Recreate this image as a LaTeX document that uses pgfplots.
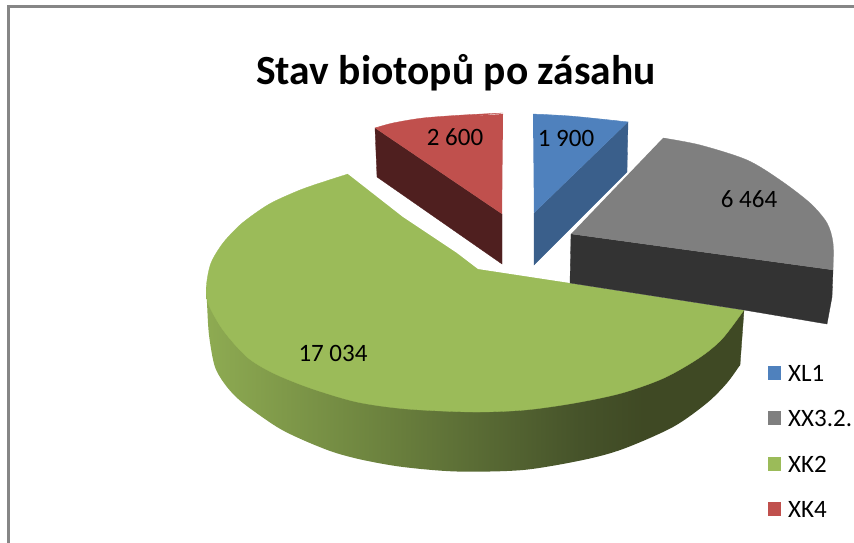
\documentclass[border=0pt]{standalone}
\usepackage{fontspec}
\setmainfont{Carlito}
\usepackage{pgfplots}
\pgfplotsset{compat=1.18}
\definecolor{cblue}{HTML}{4F81BD}
\definecolor{cblued}{HTML}{3A5F8B}
\definecolor{cred}{HTML}{C0504D}
\definecolor{credd}{HTML}{4F1F1F}
\definecolor{cgray}{HTML}{7F7F7F}
\definecolor{cgrayd}{HTML}{333333}
\definecolor{cgreen}{HTML}{9BBB59}
\definecolor{cframe}{HTML}{868686}
\definecolor{gs0}{HTML}{8EAB52}
\definecolor{gs1}{HTML}{6F8640}
\definecolor{gs2}{HTML}{46532A}
\definecolor{gs3}{HTML}{3F4924}
\pgfdeclarehorizontalshading{greenside}{100bp}{color(0bp)=(gs0);
 color(25bp)=(gs0); color(40bp)=(gs1); color(60bp)=(gs2); color(66bp)=(gs3); color(100bp)=(gs3)}
\begin{document}
\begin{tikzpicture}
\begin{axis}[
  scale only axis, width=854pt, height=543pt,
  xmin=0, xmax=854, ymin=0, ymax=543, y dir=reverse,
  hide axis, enlargelimits=false, clip=true]
% background (also fixes the picture's extent)
\addplot[fill=white, draw=none, no marks] coordinates {(0,0) (854,0) (854,543) (0,543)} -- cycle;
% frame
\addplot[cframe, line width=2.5pt, no marks] coordinates {(8.5,543) (8.5,6.5) (854,6.5)};
% green slice: rim
\addplot[shading=greenside, draw=none, no marks, smooth] coordinates {(206,287) (207,303) (209,335) (215,367) (227,387) (243,403) (277,427) (303,440) (333,452) (363,460) (403,467) (457,471.5) (523,470) (583,460) (623,449) (673,427) (707,403) (727,383) (740,365)};
\addplot[fill=gs3, draw=gs3, line width=0.3pt, no marks] coordinates {(740,365) (744,310) (690,340) (700,400)} -- cycle;
% green slice: top
\addplot[fill=cgreen, draw=cgreen, line width=0.3pt, no marks, smooth] coordinates {(348,174) (323,182) (300,190) (273,202) (257,212) (240,225) (223,243) (211,263) (206.5,285) (208,303) (223,330) (247,357) (273,373) (310,388) (357,402) (407,409) (473,412) (525,410) (575,403) (622,393) (664,378) (699,358) (722,339) (744,310)};
\addplot[fill=white, draw=none, no marks] coordinates {(348,174) (403,217) (457,253) (478,269) (570,283) (744,310) (747,306) (351,170)} -- cycle;
% red slice
\addplot[fill=credd, draw=credd, line width=0.3pt, no marks] coordinates {(375,128) (502,214) (502,264) (377,177)} -- cycle;
\addplot[fill=cred, draw=cred, line width=0.3pt, no marks, smooth] coordinates {(375,128) (393,123) (423,118) (463,115) (503,113)};
\addplot[fill=cred, draw=none, no marks] coordinates {(375,128) (423,119) (503,114) (502,214)} -- cycle;
% blue slice
\addplot[fill=cblued, draw=cblued, line width=0.3pt, no marks] coordinates {(628,122) (534,213) (534,265) (627,172)} -- cycle;
\addplot[fill=cblue, draw=cblue, line width=0.3pt, no marks, smooth] coordinates {(533,114) (570,116) (610,120) (628,122)};
\addplot[fill=cblue, draw=none, no marks] coordinates {(533,114) (570,116.5) (628,122) (534,213)} -- cycle;
% gray slice
\addplot[white, line width=1.6pt, no marks] coordinates {(663,138) (571,234)};
\addplot[fill=cgrayd, draw=cgrayd, line width=0.3pt, no marks] coordinates {(571,234) (833,270) (832,297) (827,324) (744,310) (570,283)} -- cycle;
\addplot[fill=cgray, draw=cgray, line width=0.3pt, no marks, smooth] coordinates {(663,138) (700,145) (747,160) (780,180) (810,203) (827,223) (833,243) (833,270)};
\addplot[fill=cgray, draw=none, no marks] coordinates {(663,138) (700,147) (747,162) (780,182) (810,205) (826,224) (832,244) (833,270) (571,234)} -- cycle;
% legend keys
\addplot[fill=cblue, draw=none, no marks] coordinates {(768,366) (781,366) (781,380) (768,380)} -- cycle;
\addplot[fill=cgray, draw=none, no marks] coordinates {(768,411) (781,411) (781,425) (768,425)} -- cycle;
\addplot[fill=cgreen, draw=none, no marks] coordinates {(768,457) (781,457) (781,471) (768,471)} -- cycle;
\addplot[fill=cred, draw=none, no marks] coordinates {(768,502) (781,502) (781,516) (768,516)} -- cycle;
% text
\node[font=\fontsize{41.5}{41.5}\selectfont\bfseries, anchor=center] at (axis cs:456,73) {Stav biotopů po zásahu};
\node[font=\fontsize{25}{25}\selectfont] at (axis cs:455,137) {2 600};
\node[font=\fontsize{25}{25}\selectfont] at (axis cs:566,138) {1 900};
\node[font=\fontsize{25}{25}\selectfont] at (axis cs:749,199) {6 464};
\node[font=\fontsize{25}{25}\selectfont] at (axis cs:333,353) {17 034};
\node[font=\fontsize{25}{25}\selectfont, anchor=west, inner sep=0pt] at (axis cs:788,373) {XL1};
\node[font=\fontsize{25}{25}\selectfont, anchor=west, inner sep=0pt] at (axis cs:788,418) {XX3.2.};
\node[font=\fontsize{25}{25}\selectfont, anchor=west, inner sep=0pt] at (axis cs:788,464) {XK2};
\node[font=\fontsize{25}{25}\selectfont, anchor=west, inner sep=0pt] at (axis cs:788,509) {XK4};
\end{axis}
\end{tikzpicture}
\end{document}
